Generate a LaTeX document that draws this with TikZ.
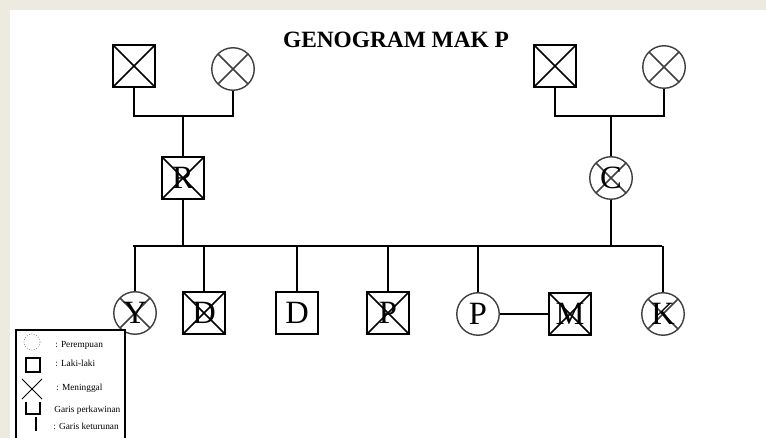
\documentclass[tikz,border=0pt]{standalone}
\usepackage{fontspec}
\setmainfont{Liberation Serif}
\usepackage{xcolor}
\usepackage{tikz}
\usetikzlibrary{positioning,calc}

\definecolor{pagebg}{HTML}{EDEAE0}

\begin{document}
\begin{tikzpicture}[x=0.02cm, y=-0.02cm,
  every node/.style={inner sep=0pt, font=\fontsize{18.5}{18.5}\selectfont},
  male/.style={rectangle, draw, line width=1.1pt, minimum size=0.83cm},
  female/.style={circle, draw=black!75, line width=0.8pt, minimum size=0.85cm},
  dead/.style={path picture={
      \draw[line width=0.9pt] (path picture bounding box.south west) -- (path picture bounding box.north east);
      \draw[line width=0.9pt] (path picture bounding box.north west) -- (path picture bounding box.south east);}},
  link/.style={line width=1.1pt},
  legtext/.style={anchor=west, font=\fontsize{5.3}{5.3}\selectfont}]

\useasboundingbox (0,0) rectangle (766,438);
\fill[pagebg] (0,0) rectangle (766,438);
\fill[white] (10,10) rectangle (766,438);

\node[font=\fontsize{13.3}{13.3}\selectfont\bfseries] (title) at (396,40) {GENOGRAM MAK P};

\node[male, dead] (gfL) at (134,66) {};
\node[female, dead] (gmL) at (233,69) {};
\node[male, dead] (gfR) at (555,66) {};
\node[female, dead] (gmR) at (664,67) {};

\node[male, dead] (R) at (183,178) {R};
\node[female, dead] (C) at (611,178) {C};

\node[female, dead] (Y) at (135,313) {Y};
\node[male, dead] (D1) at (204,313) {D};
\node[male] (D2) at (297,313) {D};
\node[male, dead] (P1) at (388,313) {P};
\node[female] (P2) at (478,314) {P};
\node[male, dead] (M) at (570,314) {M};
\node[female, dead] (K) at (663,314) {K};

\coordinate (mL) at (183,116);
\coordinate (mR) at (611,116);
\coordinate (sibL) at (133,246);
\coordinate (sibR) at (662,246);

\draw[link] (gfL.south) |- (mL) -| (gmL.south);
\draw[link] (mL) -- (R.north);
\draw[link] (gfR.south) |- (mR) -| (gmR.south);
\draw[link] (mR) -- (C.north);

\draw[link] (sibL) -- (sibR);
\draw[link] (R.south) -- (R.south |- sibL);
\draw[link] (C.south) -- (C.south |- sibL);
\draw[link] (Y.north) -- (Y.north |- sibL);
\draw[link] (D1.north) -- (D1.north |- sibL);
\draw[link] (D2.north) -- (D2.north |- sibL);
\draw[link] (P1.north) -- (P1.north |- sibL);
\draw[link] (P2.north) -- (P2.north |- sibL);
\draw[link] (K.north) -- (K.north |- sibL);
\draw[link] (P2.east) -- (M.west);

\draw[line width=1.1pt, fill=white] (16,330) rectangle (125,442);

\node[circle, draw=black!50, densely dotted, line width=0.4pt, minimum size=0.32cm] (lgF) at (32,342) {};
\node[rectangle, draw, line width=1pt, minimum size=0.27cm] (lgM) at (33,365) {};
\coordinate (lgX) at (32,389);
\draw[line width=0.6pt] ($(lgX)+(-10,-10)$) -- ($(lgX)+(10,10)$);
\draw[line width=0.6pt] ($(lgX)+(-10,10)$) -- ($(lgX)+(10,-10)$);
\coordinate (lgU) at (33,408);
\draw[line width=1pt] ($(lgU)+(-7,-6)$) -- ($(lgU)+(-7,6)$) -- ($(lgU)+(7,6)$) -- ($(lgU)+(7,-6)$);
\coordinate (lgK) at (36,424);
\draw[line width=1pt] ($(lgK)+(0,-7)$) -- ($(lgK)+(0,7)$);

\node[legtext] (tF) at (55,345) {: Perempuan};
\node[legtext] (tM) at (55,363) {: Laki-laki};
\node[legtext] (tX) at (56,388) {: Meninggal};
\node[legtext] (tU) at (54,410) {Garis perkawinan};
\node[legtext] (tK) at (53,426) {: Garis keturunan};

\end{tikzpicture}
\end{document}
